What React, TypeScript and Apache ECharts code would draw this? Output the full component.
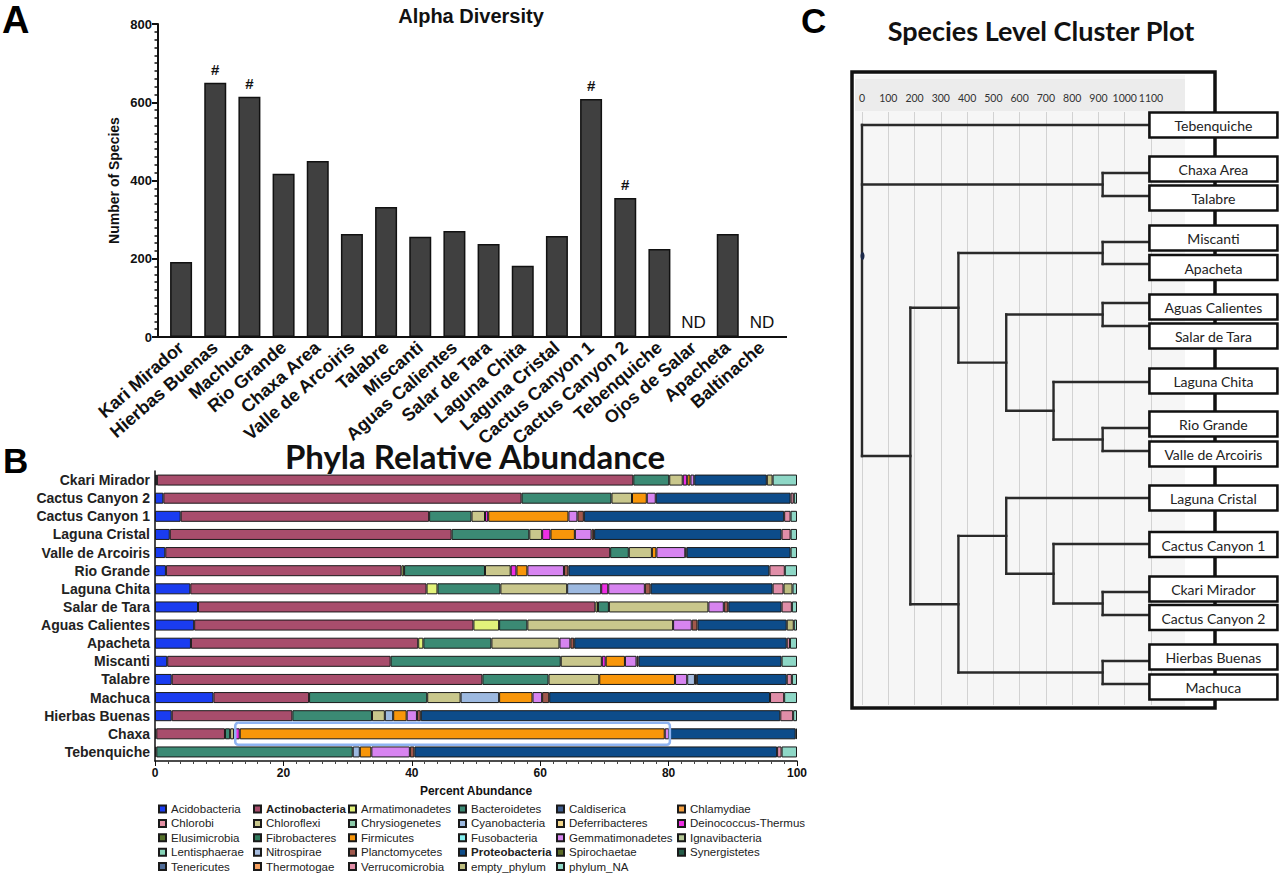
import { useEffect, useRef } from 'react';
import * as echarts from 'echarts';

const ARIAL = '"Liberation Sans", Arial, Helvetica, sans-serif';
const CAL = 'Lato, "Open Sans", sans-serif';

// ---------- Panel A: Alpha Diversity ----------
const alphaSites = ['Kari Mirador', 'Hierbas Buenas', 'Machuca', 'Rio Grande', 'Chaxa Area', 'Valle de Arcoiris', 'Talabre', 'Miscanti', 'Aguas Calientes', 'Salar de Tara', 'Laguna Chita', 'Laguna Cristal', 'Cactus Canyon 1', 'Cactus Canyon 2', 'Tebenquiche', 'Ojos de Salar', 'Apacheta', 'Baltinache'];
const alphaSpecies = [192, 650, 614, 417, 450, 263, 332, 256, 271, 238, 182, 258, 608, 355, 225, 0, 263, 0];
const alphaMarks = ['', '#', '#', '', '', '', '', '', '', '', '', '', '#', '#', '', 'ND', '', 'ND'];

// ---------- Panel B: Phyla Relative Abundance ----------
const phylaRows = ['Ckari Mirador', 'Cactus Canyon 2', 'Cactus Canyon 1', 'Laguna Cristal', 'Valle de Arcoiris', 'Rio Grande', 'Laguna Chita', 'Salar de Tara', 'Aguas Calientes', 'Apacheta', 'Miscanti', 'Talabre', 'Machuca', 'Hierbas Buenas', 'Chaxa', 'Tebenquiche'];
const phylaNames = ['Acidobacteria', 'Actinobacteria', 'Armatimonadetes', 'Bacteroidetes', 'Caldiserica', 'Chlamydiae', 'Chlorobi', 'Chloroflexi', 'Chrysiogenetes', 'Cyanobacteria', 'Deferribacteres', 'Deinococcus-Thermus', 'Elusimicrobia', 'Fibrobacteres', 'Firmicutes', 'Fusobacteria', 'Gemmatimonadetes', 'Ignavibacteria', 'Lentisphaerae', 'Nitrospirae', 'Planctomycetes', 'Proteobacteria', 'Spirochaetae', 'Synergistetes', 'Tenericutes', 'Thermotogae', 'Verrucomicrobia', 'empty_phylum', 'phylum_NA'];
const phylaColors = ['#1a3cf0', '#a84d6c', '#e2f27a', '#3b8a74', '#3c5a8c', '#f5a040', '#e38fa3', '#c9c78c', '#8ccbaa', '#9db9e0', '#f2d68a', '#ee2fe4', '#55702a', '#2f7a5c', '#f8960a', '#86f2f2', '#d784f0', '#b5c795', '#86d4b8', '#a7bde0', '#a0584c', '#0d4c8a', '#5a6a26', '#245c48', '#4f6c98', '#f5a060', '#e08ea8', '#bdbd80', '#8ed7c6'];
const boldPhyla = ['Actinobacteria', 'Proteobacteria'];

const acidobacteria = [0.3, 1.3, 4.0, 2.3, 1.6, 1.7, 5.5, 6.7, 6.1, 5.6, 1.9, 2.6, 9.1, 2.6, 0.2, 0.2];
const actinobacteria = [74.2, 55.8, 38.7, 43.9, 69.3, 36.7, 36.8, 61.9, 43.5, 35.4, 34.8, 48.4, 14.9, 18.8, 10.7, 0];
const armatimonadetes = [0, 0, 0, 0, 0, 0.4, 1.7, 0.4, 4.0, 0.8, 0, 0, 0, 0, 0, 0];
const bacteroidetes = [5.6, 14.0, 6.6, 12.1, 2.9, 12.6, 9.8, 1.7, 4.4, 10.6, 26.5, 10.3, 18.4, 12.4, 0.8, 30.6];
const chloroflexi = [2.1, 3.2, 2.1, 2.0, 3.6, 4.0, 10.4, 15.5, 22.7, 10.6, 6.4, 7.9, 5.2, 2.0, 0.6, 0];
const cyanobacteria = [0, 0, 0, 0, 0, 0, 5.3, 0, 0, 0, 0, 0, 6.0, 1.3, 0, 1.1];
const deinococcus = [0.7, 0, 0.5, 1.3, 0, 0.9, 1.1, 0, 0, 0, 0.6, 0, 0, 0, 0.9, 0];
const firmicutes = [0.5, 2.3, 12.5, 3.8, 0.7, 1.7, 0, 0, 0, 0, 3.0, 11.8, 5.2, 2.1, 66.2, 1.8];
const gemmatimonadetes = [0.6, 1.4, 1.4, 2.6, 4.5, 5.7, 5.7, 2.4, 2.9, 1.7, 1.8, 1.9, 1.5, 1.6, 0.7, 6.0];
const nitrospirae = [0, 0, 0, 0, 0, 0, 0, 0, 0, 0, 0, 1.2, 0, 0, 0, 0];
const planctomycetes = [0, 0, 1.0, 0.4, 0.2, 0.7, 0.9, 0.7, 0.9, 0.6, 0.3, 0.3, 1.1, 0.6, 0, 0.7];
const proteobacteria = [11.3, 21.0, 31.2, 29.2, 16.2, 31.3, 19.0, 8.3, 13.9, 33.1, 22.3, 14.0, 34.4, 56.0, 19.7, 56.5];
const verrucomicrobia = [0, 0.5, 1.0, 1.4, 0, 2.4, 1.7, 1.6, 0, 0.5, 0, 0.8, 2.2, 2.0, 0, 0.7];
const emptyPhylum = [0.9, 0, 0, 0, 0, 0, 1.4, 0, 1.1, 0, 0, 0, 0, 0, 0, 0];
const phylumNA = [3.8, 0.5, 1.0, 1.0, 1.0, 1.9, 0.7, 0.8, 0.5, 1.1, 2.4, 0.8, 2.0, 0.6, 0.2, 2.4];
const absent = [0, 0, 0, 0, 0, 0, 0, 0, 0, 0, 0, 0, 0, 0, 0, 0];
const chaxaHighlight = [12.5, 80.2];

const phylumValues: Record<string, number[]> = {
  Acidobacteria: acidobacteria,
  Actinobacteria: actinobacteria,
  Armatimonadetes: armatimonadetes,
  Bacteroidetes: bacteroidetes,
  Chloroflexi: chloroflexi,
  Cyanobacteria: cyanobacteria,
  'Deinococcus-Thermus': deinococcus,
  Firmicutes: firmicutes,
  Gemmatimonadetes: gemmatimonadetes,
  Nitrospirae: nitrospirae,
  Planctomycetes: planctomycetes,
  Proteobacteria: proteobacteria,
  Verrucomicrobia: verrucomicrobia,
  empty_phylum: emptyPhylum,
  phylum_NA: phylumNA,
};

// ---------- Panel C: Species Level Cluster Plot ----------
const clusterLeaves = ['Tebenquiche', 'Chaxa Area', 'Talabre', 'Miscanti', 'Apacheta', 'Aguas Calientes', 'Salar de Tara', 'Laguna Chita', 'Rio Grande', 'Valle de Arcoiris', 'Laguna Cristal', 'Cactus Canyon 1', 'Ckari Mirador', 'Cactus Canyon 2', 'Hierbas Buenas', 'Machuca'];
const leafPos = [13, 61, 84, 130, 152, 191, 214, 270, 316, 339, 386, 432, 480, 503, 549, 572];
const labelPos = [13, 57, 86, 126, 155.5, 195, 224, 269, 312, 342, 386, 432.5, 477, 505.5, 545, 575];
const leafTip = 1094;
// [height, children...]; children are leaf names or earlier node ids (n0, n1, ...)
const clusterMerges: [number, ...string[]][] = [
  [916, 'Chaxa Area', 'Talabre'],
  [916, 'Miscanti', 'Apacheta'],
  [916, 'Aguas Calientes', 'Salar de Tara'],
  [916, 'Rio Grande', 'Valle de Arcoiris'],
  [729, 'Laguna Chita', 'n3'],
  [549, 'n2', 'n4'],
  [367, 'n1', 'n5'],
  [916, 'Ckari Mirador', 'Cactus Canyon 2'],
  [729, 'Cactus Canyon 1', 'n7'],
  [549, 'Laguna Cristal', 'n8'],
  [916, 'Hierbas Buenas', 'Machuca'],
  [367, 'n9', 'n10'],
  [184, 'n6', 'n11'],
  [0, 'Tebenquiche', 'n0', 'n12'],
];
const clusterTicks = [0, 100, 200, 300, 400, 500, 600, 700, 800, 900, 1000, 1100];

function buildDendrogramSegments() {
  const nodeY: number[] = [];
  const segs: number[][] = [];
  const pos = (c: string) => {
    if (/^n\d+$/.test(c)) {
      const k = parseInt(c.slice(1), 10);
      return { x: clusterMerges[k][0], y: nodeY[k] };
    }
    return { x: leafTip, y: leafPos[clusterLeaves.indexOf(c)] };
  };
  clusterMerges.forEach((m, k) => {
    const h = m[0];
    const kids = m.slice(1) as string[];
    const ps = kids.map(pos);
    const ys = ps.map((p) => p.y);
    nodeY[k] = (ps[0].y + ps[ps.length - 1].y) / 2;
    segs.push([h, Math.min(...ys), h, Math.max(...ys)]);
    ps.forEach((p) => segs.push([h, p.y, p.x, p.y]));
  });
  return segs;
}

export default function App() {
  const ref = useRef<HTMLDivElement>(null);

  useEffect(() => {
    if (!ref.current) return;
    const chart = echarts.init(ref.current, null, { renderer: 'svg' });

    const phylaSeries = phylaNames.map((name, i) => ({
      name,
      type: 'bar',
      stack: 'phyla',
      xAxisIndex: 1,
      yAxisIndex: 1,
      barWidth: 11,
      data: (phylumValues[name] || absent).map((v) => (v > 0 ? v : '-')),
      itemStyle: { color: phylaColors[i], borderColor: '#1a1a1a', borderWidth: 1 },
      emphasis: { disabled: true },
    }));

    // legend in 6 columns (row-major order as in the reference)
    const legendCols = [158, 253, 348, 458, 556, 677];
    const legends = legendCols.map((left, c) => ({
      orient: 'vertical',
      left,
      top: 802,
      height: 75,
      padding: 0,
      itemWidth: 7,
      itemHeight: 7,
      itemGap: 0.4,
      selectedMode: false,
      icon: 'rect',
      textStyle: { fontFamily: ARIAL, fontSize: 11.5, color: '#222', lineHeight: 14 },
      data: phylaNames
        .filter((_, i) => i % 6 === c)
        .map((n) => (boldPhyla.includes(n) ? { name: n, textStyle: { fontWeight: 'bold' } } : { name: n })),
    }));

    const segs = buildDendrogramSegments();

    const option: any = {
      animation: false,
      backgroundColor: '#ffffff',
      legend: legends,
      grid: [
        { left: 164, top: 24, width: 615, height: 313 },
        { left: 155, top: 471, width: 642, height: 290 },
        { left: 862, top: 112, width: 289, height: 593 },
      ],
      xAxis: [
        {
          gridIndex: 0,
          type: 'category',
          data: alphaSites,
          axisLine: { lineStyle: { color: '#111', width: 2 } },
          axisTick: { alignWithLabel: true, length: 6, lineStyle: { color: '#111', width: 2 } },
          axisLabel: { rotate: 41, fontFamily: ARIAL, fontWeight: 'bold', fontSize: 18, color: '#111', margin: 8, interval: 0 },
        },
        {
          gridIndex: 1,
          type: 'value',
          min: 0,
          max: 100,
          interval: 20,
          axisLine: { show: true, lineStyle: { color: '#111', width: 1.5 } },
          axisTick: { show: true, length: 5, lineStyle: { color: '#111' } },
          minorTick: { show: true, splitNumber: 10, length: 3, lineStyle: { color: '#444' } },
          splitLine: { show: false },
          axisLabel: { fontFamily: ARIAL, fontWeight: 'bold', fontSize: 12, color: '#111', margin: 6 },
          name: 'Percent Abundance',
          nameLocation: 'middle',
          nameGap: 24,
          nameTextStyle: { fontFamily: ARIAL, fontWeight: 'bold', fontSize: 12, color: '#111' },
        },
        {
          gridIndex: 2,
          type: 'value',
          position: 'top',
          min: clusterTicks[0],
          max: clusterTicks[clusterTicks.length - 1],
          interval: 100,
          axisLine: { show: false },
          axisTick: { show: false },
          axisLabel: { fontFamily: CAL, fontSize: 10.5, color: '#333', margin: 9, showMaxLabel: true, showMinLabel: true, formatter: (v: number) => String(v) },
          splitLine: { show: true, lineStyle: { color: '#d2d2d2', width: 1 } },
        },
      ],
      yAxis: [
        {
          gridIndex: 0,
          type: 'value',
          min: 0,
          max: 800,
          interval: 200,
          offset: 6,
          axisLine: { show: true, lineStyle: { color: '#111', width: 2 } },
          axisTick: { show: true, length: 6, lineStyle: { color: '#111', width: 2 } },
          minorTick: { show: true, splitNumber: 10, length: 3.5, lineStyle: { color: '#111', width: 1.5 } },
          splitLine: { show: false },
          axisLabel: { fontFamily: ARIAL, fontWeight: 'bold', fontSize: 13, color: '#111', margin: 6 },
          name: 'Number of Species',
          nameLocation: 'middle',
          nameGap: 37,
          nameTextStyle: { fontFamily: ARIAL, fontWeight: 'bold', fontSize: 14, color: '#111' },
        },
        {
          gridIndex: 1,
          type: 'category',
          inverse: true,
          data: phylaRows,
          axisLine: { lineStyle: { color: '#111', width: 1.5 } },
          axisTick: { alignWithLabel: true, length: 4, lineStyle: { color: '#111' } },
          axisLabel: { fontFamily: ARIAL, fontWeight: 'bold', fontSize: 14, color: '#222', margin: 5, interval: 0 },
        },
        { gridIndex: 2, type: 'value', min: 0, max: 593, inverse: true, show: false },
      ],
      series: [
        {
          type: 'bar',
          xAxisIndex: 0,
          yAxisIndex: 0,
          barWidth: 22,
          itemStyle: { color: '#404040', borderColor: '#111', borderWidth: 1.5 },
          emphasis: { disabled: true },
          data: alphaSpecies.map((v, i) => ({
            value: v,
            label: alphaMarks[i]
              ? {
                  show: true,
                  position: 'top',
                  formatter: alphaMarks[i],
                  distance: alphaMarks[i] === '#' ? 6 : 5,
                  fontFamily: ARIAL,
                  fontSize: alphaMarks[i] === '#' ? 15 : 17,
                  fontWeight: alphaMarks[i] === '#' ? 'bold' : 'normal',
                  color: '#111',
                }
              : { show: false },
          })),
        },
        ...phylaSeries,
        {
          type: 'custom',
          xAxisIndex: 2,
          yAxisIndex: 2,
          data: segs,
          encode: { x: [0, 2], y: [1, 3] },
          silent: true,
          renderItem: (_p: any, api: any) => {
            const a = api.coord([api.value(0), api.value(1)]);
            const b = api.coord([api.value(2), api.value(3)]);
            return {
              type: 'line',
              shape: { x1: a[0], y1: a[1], x2: b[0], y2: b[1] },
              style: { stroke: '#2a2a2a', lineWidth: 2.4, lineCap: 'square' },
            };
          },
        },
        {
          type: 'custom',
          xAxisIndex: 2,
          yAxisIndex: 2,
          z: 5,
          silent: true,
          data: clusterLeaves.map((_, i) => [leafTip, labelPos[i], i]),
          encode: { x: 0, y: 1 },
          renderItem: (_p: any, api: any) => {
            const p = api.coord([api.value(0), api.value(1)]);
            const name = clusterLeaves[api.value(2)];
            return {
              type: 'group',
              children: [
                {
                  type: 'rect',
                  shape: { x: p[0], y: p[1] - 12.5, width: 128, height: 25 },
                  style: { fill: '#ffffff', stroke: '#111', lineWidth: 2.6 },
                },
                {
                  type: 'text',
                  style: {
                    text: name,
                    x: p[0] + 64,
                    y: p[1] + 0.5,
                    align: 'center',
                    verticalAlign: 'middle',
                    textAlign: 'center',
                    textVerticalAlign: 'middle',
                    font: `14px ${CAL}`,
                    fill: '#222',
                  },
                },
              ],
            };
          },
        },
      ],
      graphic: {
        elements: [
          { id: 'bgC', type: 'rect', z: -1, shape: { x: 855, y: 75, width: 330, height: 631 }, style: { fill: '#f6f6f6' } },
          { id: 'hdrC', type: 'rect', z: -1, shape: { x: 855, y: 79, width: 330, height: 32 }, style: { fill: '#ececec' } },
          { id: 'frameC', type: 'rect', z: 1, shape: { x: 852, y: 72, width: 363, height: 636 }, style: { fill: 'none', stroke: '#111', lineWidth: 3.5 } },
          { id: 'rootDot', type: 'ellipse', z: 3, shape: { cx: 862.5, cy: 256, rx: 2, ry: 4 }, style: { fill: '#1d2a4a' } },
          { id: 'axA1', type: 'line', z: 3, shape: { x1: 157, y1: 337, x2: 787, y2: 337 }, style: { stroke: '#111', lineWidth: 2 } },
          { id: 'letA', type: 'text', style: { text: 'A', x: 2, y: 20, font: `bold 38px ${ARIAL}`, fill: '#000', textVerticalAlign: 'middle', verticalAlign: 'middle' } },
          { id: 'letB', type: 'text', style: { text: 'B', x: 3, y: 460, font: `bold 35px ${ARIAL}`, fill: '#000', textVerticalAlign: 'middle', verticalAlign: 'middle' } },
          { id: 'letC', type: 'text', style: { text: 'C', x: 801, y: 20, font: `bold 35px ${ARIAL}`, fill: '#000', textVerticalAlign: 'middle', verticalAlign: 'middle' } },
          { id: 'titA', type: 'text', style: { text: 'Alpha Diversity', x: 471, y: 16, font: `bold 20px ${ARIAL}`, fill: '#111', textAlign: 'center', align: 'center', textVerticalAlign: 'middle', verticalAlign: 'middle' } },
          { id: 'titB', type: 'text', style: { text: 'Phyla Relative Abundance', x: 475, y: 456, font: `bold 33px ${CAL}`, fill: '#111', textAlign: 'center', align: 'center', textVerticalAlign: 'middle', verticalAlign: 'middle' } },
          { id: 'titC', type: 'text', style: { text: 'Species Level Cluster Plot', x: 1041, y: 30, font: `bold 27px ${CAL}`, fill: '#111', textAlign: 'center', align: 'center', textVerticalAlign: 'middle', verticalAlign: 'middle' } },
        ],
      },
    };

    chart.setOption(option);

    const row = phylaRows.indexOf('Chaxa');
    const a = chart.convertToPixel({ gridIndex: 1 } as any, [chaxaHighlight[0], row]) as number[];
    const b = chart.convertToPixel({ gridIndex: 1 } as any, [chaxaHighlight[1], row]) as number[];
    if (a && b) {
      chart.setOption({
        graphic: {
          elements: [
            {
              id: 'chaxaBox',
              type: 'rect',
              z: 100,
              shape: { x: a[0], y: a[1] - 11, width: b[0] - a[0], height: 22, r: 3 },
              style: { fill: 'none', stroke: '#8fb4f2', lineWidth: 2.5 },
            },
          ],
        },
      });
    }

    return () => chart.dispose();
  }, []);

  return <div ref={ref} style={{ position: 'absolute', left: 0, top: 0, width: 1280, height: 877, background: '#fff' }} />;
}
